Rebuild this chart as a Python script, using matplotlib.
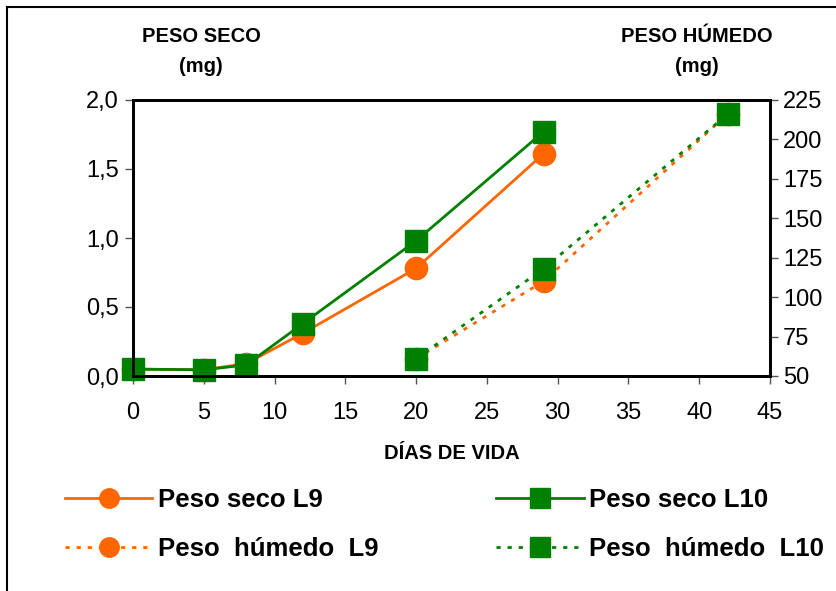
import matplotlib.pyplot as plt
from matplotlib.lines import Line2D
from matplotlib.patches import Rectangle

plt.rcParams['font.family'] = ['Liberation Sans', 'DejaVu Sans']

# days of life
dias_seco = [0, 5, 8, 12, 20, 29]
dias_humedo = [20, 29, 42]

# dry weight (mg), left axis
seco_l9 = [0.05, 0.045, 0.09, 0.31, 0.78, 1.61]
seco_l10 = [0.05, 0.045, 0.08, 0.38, 0.98, 1.77]

# wet weight (mg), right axis
humedo_l9 = [61, 110, 216]
humedo_l10 = [61, 118, 216]

orange = '#FF6600'
green = '#008000'
dotted = (0, (1.5, 2.5))

fig = plt.figure(figsize=(8.37, 5.91), dpi=100)
ax = fig.add_axes([133/837, 1-376/591, (770-133)/837, (376-100)/591])
ax2 = ax.twinx()

ax2.plot(dias_humedo, humedo_l9, color=orange, lw=2, ls=dotted,
         marker='o', ms=16, zorder=2, clip_on=False)
ax2.plot(dias_humedo, humedo_l10, color=green, lw=2, ls=dotted,
         marker='s', ms=16, zorder=3, clip_on=False)
ax.plot(dias_seco, seco_l9, color=orange, lw=2, marker='o', ms=16, zorder=2, clip_on=False)
ax.plot(dias_seco, seco_l10, color=green, lw=2, marker='s', ms=16, zorder=3, clip_on=False)

ax.set_xlim(0, 45)
ax.set_ylim(0, 2.0)
ax2.set_ylim(50, 225)
ax.set_xticks(range(0, 50, 5))
ax.set_yticks([0, 0.5, 1.0, 1.5, 2.0])
ax.set_yticklabels(['0,0', '0,5', '1,0', '1,5', '2,0'])
ax2.set_yticks(range(50, 250, 25))

for a in (ax, ax2):
    for s in a.spines.values():
        s.set_linewidth(2)
    a.tick_params(labelsize=17, length=6, width=1, color='#555555', direction='out')
ax.tick_params(axis='x', pad=13)
ax.tick_params(axis='y', pad=4)

ax.set_xlabel('DÍAS DE VIDA', fontsize=14.5, fontweight='bold', labelpad=14)

fig.text(201/837, 1-36/591, 'PESO SECO', ha='center', va='center', fontsize=14.5, fontweight='bold')
fig.text(201/837, 1-66/591, '(mg)', ha='center', va='center', fontsize=14.5, fontweight='bold')
fig.text(697/837, 1-36/591, 'PESO HÚMEDO', ha='center', va='center', fontsize=14.5, fontweight='bold')
fig.text(697/837, 1-66/591, '(mg)', ha='center', va='center', fontsize=14.5, fontweight='bold')

handles = [
    Line2D([], [], color=orange, lw=2, marker='o', ms=14),
    Line2D([], [], color=orange, lw=2, ls=dotted, marker='o', ms=14),
    Line2D([], [], color=green, lw=2, marker='s', ms=14),
    Line2D([], [], color=green, lw=2, ls=dotted, marker='s', ms=14),
]
labels = ['Peso seco L9', 'Peso  húmedo  L9', 'Peso seco L10', 'Peso  húmedo  L10']
fig.legend(handles, labels, ncol=2, loc='upper left', bbox_to_anchor=(42/837, 1-465/591),
           frameon=False, prop={'size': 18.5, 'weight': 'bold'}, handlelength=3.4,
           handletextpad=0.2, columnspacing=4.6, labelspacing=0.95)

fig.patches.append(Rectangle((7/837, -0.1), 1.0, 1-7/591+0.1, transform=fig.transFigure,
                             fill=False, lw=1.5, edgecolor='black'))

fig.savefig('out.png', dpi=100)
